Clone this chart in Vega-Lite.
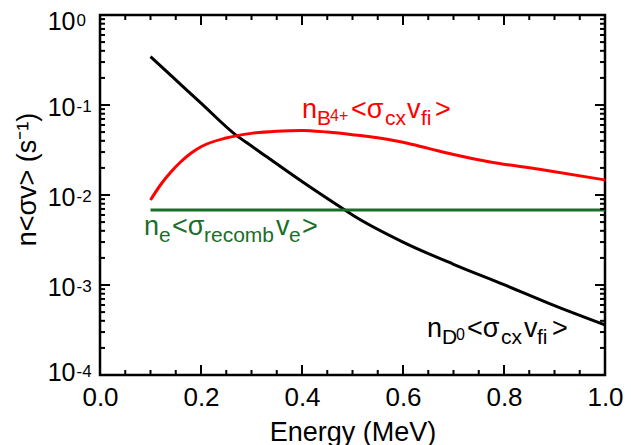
{
  "$schema": "https://vega.github.io/schema/vega-lite/v6.json",
  "width": 505,
  "height": 360,
  "autosize": {"type": "none"},
  "padding": {"left": 100, "top": 15, "right": 26, "bottom": 70},
  "background": "white",
  "config": {
    "view": {"stroke": "black", "strokeWidth": 2.5},
    "font": "Liberation Sans",
    "rule": {"color": "black", "strokeWidth": 2}
  },
  "datasets": {
    "curves": [
      {"series": "D0", "E": 0.1, "v": 0.344},
      {"series": "D0", "E": 0.15, "v": 0.19},
      {"series": "D0", "E": 0.2, "v": 0.105},
      {"series": "D0", "E": 0.27, "v": 0.046},
      {"series": "D0", "E": 0.3, "v": 0.035},
      {"series": "D0", "E": 0.4, "v": 0.0141},
      {"series": "D0", "E": 0.485, "v": 0.0068},
      {"series": "D0", "E": 0.5, "v": 0.006},
      {"series": "D0", "E": 0.6, "v": 0.003},
      {"series": "D0", "E": 0.7, "v": 0.0017},
      {"series": "D0", "E": 0.8, "v": 0.00101},
      {"series": "D0", "E": 0.9, "v": 0.00059},
      {"series": "D0", "E": 1.0, "v": 0.00036},
      {"series": "B4+", "E": 0.1, "v": 0.0088},
      {"series": "B4+", "E": 0.12, "v": 0.013},
      {"series": "B4+", "E": 0.14, "v": 0.0179},
      {"series": "B4+", "E": 0.16, "v": 0.0234},
      {"series": "B4+", "E": 0.18, "v": 0.0291},
      {"series": "B4+", "E": 0.2, "v": 0.0344},
      {"series": "B4+", "E": 0.25, "v": 0.043},
      {"series": "B4+", "E": 0.3, "v": 0.0484},
      {"series": "B4+", "E": 0.35, "v": 0.0512},
      {"series": "B4+", "E": 0.4, "v": 0.0522},
      {"series": "B4+", "E": 0.45, "v": 0.05},
      {"series": "B4+", "E": 0.5, "v": 0.0468},
      {"series": "B4+", "E": 0.55, "v": 0.0432},
      {"series": "B4+", "E": 0.6, "v": 0.0385},
      {"series": "B4+", "E": 0.65, "v": 0.033},
      {"series": "B4+", "E": 0.7, "v": 0.0282},
      {"series": "B4+", "E": 0.77, "v": 0.0234},
      {"series": "B4+", "E": 0.87, "v": 0.0193},
      {"series": "B4+", "E": 1.0, "v": 0.0147},
      {"series": "recomb", "E": 0.1, "v": 0.0068},
      {"series": "recomb", "E": 1.0, "v": 0.0068}
    ],
    "labels": [
      {"series": "B4+", "role": "main", "E": 0.4, "v": 0.0717, "t": "n"},
      {"series": "B4+", "role": "sub", "E": 0.4297, "v": 0.0717, "t": "B"},
      {"series": "B4+", "role": "small", "E": 0.4554, "v": 0.0717, "t": "4+"},
      {"series": "B4+", "role": "main", "E": 0.497, "v": 0.0717, "t": "<σ"},
      {"series": "B4+", "role": "sub", "E": 0.5643, "v": 0.0717, "t": "cx"},
      {"series": "B4+", "role": "main", "E": 0.6079, "v": 0.0717, "t": "v"},
      {"series": "B4+", "role": "sub", "E": 0.6356, "v": 0.0717, "t": "fi"},
      {"series": "B4+", "role": "main", "E": 0.6633, "v": 0.0717, "t": ">"},
      {"series": "recomb", "role": "main", "E": 0.0871, "v": 0.003594, "t": "n"},
      {"series": "recomb", "role": "sub", "E": 0.1168, "v": 0.003594, "t": "e"},
      {"series": "recomb", "role": "main", "E": 0.1426, "v": 0.003594, "t": "<σ"},
      {"series": "recomb", "role": "sub", "E": 0.2059, "v": 0.003594, "t": "recomb"},
      {"series": "recomb", "role": "main", "E": 0.3485, "v": 0.003594, "t": "v"},
      {"series": "recomb", "role": "sub", "E": 0.3742, "v": 0.003594, "t": "e"},
      {"series": "recomb", "role": "main", "E": 0.4, "v": 0.003594, "t": ">"},
      {"series": "D0", "role": "main", "E": 0.6475, "v": 0.0002644, "t": "n"},
      {"series": "D0", "role": "sub", "E": 0.6772, "v": 0.0002644, "t": "D"},
      {"series": "D0", "role": "small", "E": 0.7049, "v": 0.0002644, "t": "0"},
      {"series": "D0", "role": "main", "E": 0.7267, "v": 0.0002644, "t": "<σ"},
      {"series": "D0", "role": "sub", "E": 0.794, "v": 0.0002644, "t": "cx"},
      {"series": "D0", "role": "main", "E": 0.8396, "v": 0.0002644, "t": "v"},
      {"series": "D0", "role": "sub", "E": 0.8653, "v": 0.0002644, "t": "fi"},
      {"series": "D0", "role": "main", "E": 0.895, "v": 0.0002644, "t": ">"}
    ],
    "xticks": [
      {"E": 0, "kind": "major"}, {"E": 0.05, "kind": "minor"}, {"E": 0.1, "kind": "minor"}, {"E": 0.15, "kind": "minor"},
      {"E": 0.2, "kind": "major"}, {"E": 0.25, "kind": "minor"}, {"E": 0.3, "kind": "minor"}, {"E": 0.35, "kind": "minor"},
      {"E": 0.4, "kind": "major"}, {"E": 0.45, "kind": "minor"}, {"E": 0.5, "kind": "minor"}, {"E": 0.55, "kind": "minor"},
      {"E": 0.6, "kind": "major"}, {"E": 0.65, "kind": "minor"}, {"E": 0.7, "kind": "minor"}, {"E": 0.75, "kind": "minor"},
      {"E": 0.8, "kind": "major"}, {"E": 0.85, "kind": "minor"}, {"E": 0.9, "kind": "minor"}, {"E": 0.95, "kind": "minor"},
      {"E": 1, "kind": "major"}
    ],
    "yticks": [
      {"v": 0.0001, "kind": "major"}, {"v": 0.0002, "kind": "minor"}, {"v": 0.0003, "kind": "minor"}, {"v": 0.0004, "kind": "minor"}, {"v": 0.0005, "kind": "minor"}, {"v": 0.0006, "kind": "minor"}, {"v": 0.0007, "kind": "minor"}, {"v": 0.0008, "kind": "minor"}, {"v": 0.0009, "kind": "minor"},
      {"v": 0.001, "kind": "major"}, {"v": 0.002, "kind": "minor"}, {"v": 0.003, "kind": "minor"}, {"v": 0.004, "kind": "minor"}, {"v": 0.005, "kind": "minor"}, {"v": 0.006, "kind": "minor"}, {"v": 0.007, "kind": "minor"}, {"v": 0.008, "kind": "minor"}, {"v": 0.009, "kind": "minor"},
      {"v": 0.01, "kind": "major"}, {"v": 0.02, "kind": "minor"}, {"v": 0.03, "kind": "minor"}, {"v": 0.04, "kind": "minor"}, {"v": 0.05, "kind": "minor"}, {"v": 0.06, "kind": "minor"}, {"v": 0.07, "kind": "minor"}, {"v": 0.08, "kind": "minor"}, {"v": 0.09, "kind": "minor"},
      {"v": 0.1, "kind": "major"}, {"v": 0.2, "kind": "minor"}, {"v": 0.3, "kind": "minor"}, {"v": 0.4, "kind": "minor"}, {"v": 0.5, "kind": "minor"}, {"v": 0.6, "kind": "minor"}, {"v": 0.7, "kind": "minor"}, {"v": 0.8, "kind": "minor"}, {"v": 0.9, "kind": "minor"},
      {"v": 1, "kind": "major"}
    ]
  },
  "resolve": {"axis": {"x": "independent", "y": "independent"}},
  "layer": [
    {
      "data": {"name": "curves"},
      "mark": {"type": "line", "strokeWidth": 3, "interpolate": "monotone", "clip": true},
      "encoding": {
        "x": {
          "field": "E", "type": "quantitative",
          "scale": {"domain": [0, 1], "nice": false, "zero": false},
          "axis": {
            "orient": "bottom",
            "values": [0, 0.2, 0.4, 0.6, 0.8, 1],
            "format": ".1f",
            "ticks": false,
            "domain": false, "grid": false,
            "labelFont": "Liberation Sans", "labelFontSize": 26, "labelColor": "black",
            "labelBaseline": "alphabetic", "labelPadding": 30,
            "labelOverlap": false, "labelFlush": false,
            "title": "Energy (MeV)",
            "titleFont": "Liberation Sans", "titleFontSize": 27, "titleFontWeight": "normal", "titleColor": "black",
            "titleBaseline": "alphabetic", "titleY": 65
          }
        },
        "y": {
          "field": "v", "type": "quantitative",
          "scale": {"type": "log", "domain": [0.0001, 1], "nice": false},
          "axis": {
            "orient": "left",
            "values": [0.0001, 0.001, 0.01, 0.1, 1],
            "labelExpr": "'10'",
            "ticks": false,
            "domain": false, "grid": false,
            "labelFont": "Liberation Sans", "labelFontSize": 25, "labelColor": "black",
            "labelBaseline": "alphabetic",
            "labelOffset": {"condition": [{"test": "datum.value == 1", "value": 14}, {"test": "datum.value == 0.0001", "value": 5}], "value": 10},
            "labelPadding": 25, "labelAlign": "right",
            "labelOverlap": false, "labelFlush": false,
            "title": "n<σv> (s⁻¹)",
            "titleFont": "Liberation Sans", "titleFontSize": 27, "titleFontWeight": "normal", "titleColor": "black",
            "titleAngle": -90, "titleBaseline": "middle", "titleAlign": "center",
            "titleX": -73, "titleY": 164
          }
        },
        "color": {
          "field": "series", "type": "nominal",
          "scale": {"domain": ["D0", "B4+", "recomb"], "range": ["#000000", "#ff0000", "#1a6e28"]},
          "legend": null
        }
      }
    },
    {
      "data": {"name": "labels"},
      "transform": [{"filter": "datum.role == 'main'"}],
      "mark": {"type": "text", "font": "Liberation Sans", "fontSize": 27, "align": "left", "baseline": "alphabetic"},
      "encoding": {
        "x": {"field": "E", "type": "quantitative", "axis": null},
        "y": {"field": "v", "type": "quantitative", "axis": null},
        "text": {"field": "t"},
        "color": {"field": "series", "type": "nominal", "legend": null}
      }
    },
    {
      "data": {"name": "labels"},
      "transform": [{"filter": "datum.role == 'sub'"}],
      "mark": {"type": "text", "font": "Liberation Sans", "fontSize": 21, "align": "left", "baseline": "alphabetic", "dy": 7},
      "encoding": {
        "x": {"field": "E", "type": "quantitative", "axis": null},
        "y": {"field": "v", "type": "quantitative", "axis": null},
        "text": {"field": "t"},
        "color": {"field": "series", "type": "nominal", "legend": null}
      }
    },
    {
      "data": {"name": "labels"},
      "transform": [{"filter": "datum.role == 'small'"}],
      "mark": {"type": "text", "font": "Liberation Sans", "fontSize": 16, "align": "left", "baseline": "alphabetic", "dy": 3},
      "encoding": {
        "x": {"field": "E", "type": "quantitative", "axis": null},
        "y": {"field": "v", "type": "quantitative", "axis": null},
        "text": {"field": "t"},
        "color": {"field": "series", "type": "nominal", "legend": null}
      }
    },
    {
      "data": {"name": "xticks"},
      "transform": [{"filter": "datum.kind == 'major'"}],
      "mark": {"type": "rule"},
      "encoding": {
        "x": {"field": "E", "type": "quantitative", "axis": null},
        "y": {"datum": 0.0001, "type": "quantitative", "axis": null},
        "y2": {"datum": 0.00012915}
      }
    },
    {
      "data": {"name": "xticks"},
      "transform": [{"filter": "datum.kind == 'minor'"}],
      "mark": {"type": "rule"},
      "encoding": {
        "x": {"field": "E", "type": "quantitative", "axis": null},
        "y": {"datum": 0.0001, "type": "quantitative", "axis": null},
        "y2": {"datum": 0.00011365}
      }
    },
    {
      "data": {"name": "xticks"},
      "transform": [{"filter": "datum.kind == 'major'"}],
      "mark": {"type": "rule"},
      "encoding": {
        "x": {"field": "E", "type": "quantitative", "axis": null},
        "y": {"datum": 1, "type": "quantitative", "axis": null},
        "y2": {"datum": 0.7743}
      }
    },
    {
      "data": {"name": "xticks"},
      "transform": [{"filter": "datum.kind == 'minor'"}],
      "mark": {"type": "rule"},
      "encoding": {
        "x": {"field": "E", "type": "quantitative", "axis": null},
        "y": {"datum": 1, "type": "quantitative", "axis": null},
        "y2": {"datum": 0.8799}
      }
    },
    {
      "data": {"name": "yticks"},
      "transform": [{"filter": "datum.kind == 'major'"}],
      "mark": {"type": "rule"},
      "encoding": {
        "y": {
          "field": "v", "type": "quantitative",
          "axis": {
            "orient": "left",
            "values": [0.0001, 0.001, 0.01, 0.1, 1],
            "labelExpr": "datum.value == 1 ? '0' : datum.value == 0.1 ? '-1' : datum.value == 0.01 ? '-2' : datum.value == 0.001 ? '-3' : '-4'",
            "labelFont": "Liberation Sans", "labelFontSize": 17, "labelColor": "black",
            "labelAlign": "left", "labelBaseline": "alphabetic",
            "labelOffset": {"condition": [{"test": "datum.value == 1", "value": 10}, {"test": "datum.value == 0.0001", "value": 1}], "value": 6},
            "labelPadding": 24,
            "labelOverlap": false, "labelFlush": false,
            "title": null, "domain": false, "grid": false, "ticks": false
          }
        },
        "x": {"datum": 0, "type": "quantitative", "axis": null},
        "x2": {"datum": 0.0198}
      }
    },
    {
      "data": {"name": "yticks"},
      "transform": [{"filter": "datum.kind == 'minor'"}],
      "mark": {"type": "rule"},
      "encoding": {
        "y": {"field": "v", "type": "quantitative", "axis": null},
        "x": {"datum": 0, "type": "quantitative", "axis": null},
        "x2": {"datum": 0.0099}
      }
    },
    {
      "data": {"name": "yticks"},
      "transform": [{"filter": "datum.kind == 'major'"}],
      "mark": {"type": "rule"},
      "encoding": {
        "y": {"field": "v", "type": "quantitative", "axis": null},
        "x": {"datum": 1, "type": "quantitative", "axis": null},
        "x2": {"datum": 0.9802}
      }
    },
    {
      "data": {"name": "yticks"},
      "transform": [{"filter": "datum.kind == 'minor'"}],
      "mark": {"type": "rule"},
      "encoding": {
        "y": {"field": "v", "type": "quantitative", "axis": null},
        "x": {"datum": 1, "type": "quantitative", "axis": null},
        "x2": {"datum": 0.9901}
      }
    }
  ]
}
